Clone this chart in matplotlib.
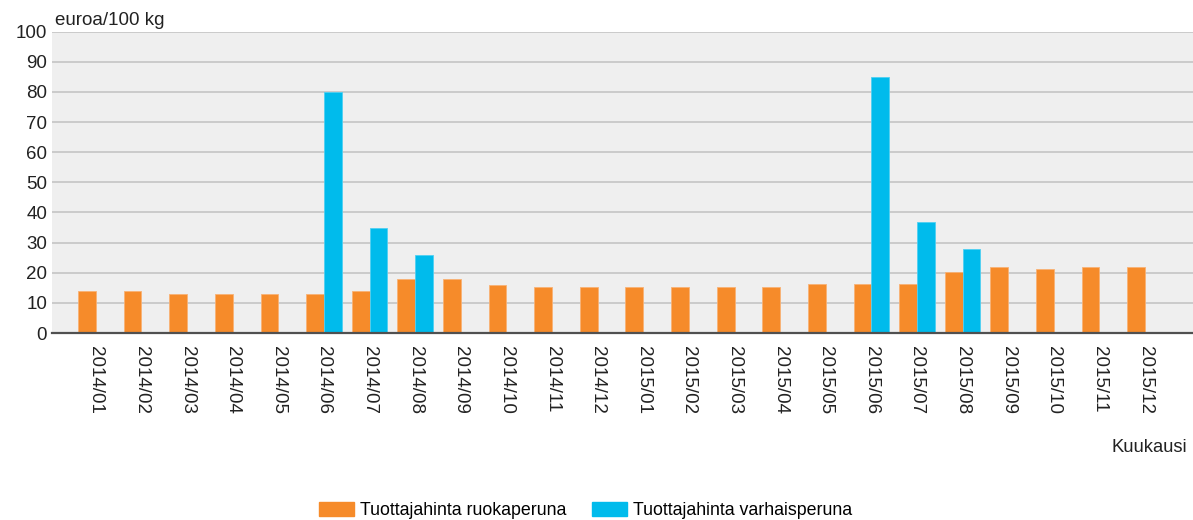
import matplotlib.pyplot as plt
import numpy as np
from matplotlib.patches import Patch

plt.rcParams['font.family'] = ['Liberation Sans', 'DejaVu Sans']

months = ['2014/01', '2014/02', '2014/03', '2014/04', '2014/05', '2014/06',
          '2014/07', '2014/08', '2014/09', '2014/10', '2014/11', '2014/12',
          '2015/01', '2015/02', '2015/03', '2015/04', '2015/05', '2015/06',
          '2015/07', '2015/08', '2015/09', '2015/10', '2015/11', '2015/12']
ruokaperuna = [14, 14, 13, 13, 13, 13, 14, 18, 18, 16, 15.3, 15.3,
               15.3, 15.3, 15.3, 15.3, 16.3, 16.3, 16.3, 20.3, 22, 21.2, 22, 22]
varhaisperuna = [np.nan, np.nan, np.nan, np.nan, np.nan, 80, 35, 26, np.nan, np.nan, np.nan, np.nan,
                 np.nan, np.nan, np.nan, np.nan, np.nan, 85, 37, 28, np.nan, np.nan, np.nan, np.nan]

orange = '#f68b2a'
blue = '#00bbec'
txt = '#222222'

fig = plt.figure(figsize=(11.93, 5.2), dpi=100)
ax = fig.add_axes([0.0436, 0.3596, 0.9564, 0.5794])
ax.set_facecolor('#efefef')

x = np.arange(len(months))
w = 0.39
ax.bar(x - w / 2, ruokaperuna, width=w, color=orange, edgecolor='#f8b275', linewidth=0.6, zorder=3)
ax.bar(x + w / 2, varhaisperuna, width=w, color=blue, edgecolor='#4fd0f2', linewidth=0.6, zorder=3)

ax.set_ylim(0, 100)
ax.set_xlim(-0.96, 24.05)
ax.set_yticks(range(0, 101, 10))
ax.yaxis.grid(True, color='#c8c8c8', linewidth=1.3, zorder=0)
ax.set_xticks(x)
ax.set_xticklabels(months, rotation=270, fontsize=13.5, color=txt)
ax.tick_params(axis='x', length=0, pad=9)
ax.tick_params(axis='y', length=0, pad=3.5, labelsize=13.5, labelcolor=txt)
for s in ['top', 'right', 'left']:
    ax.spines[s].set_visible(False)
ax.spines['bottom'].set_color('#505050')
ax.spines['bottom'].set_linewidth(1.6)
ax.spines['bottom'].set_zorder(4)

fig.text(0.046, 0.951, 'euroa/100 kg', fontsize=13.5, color=txt, ha='left', va='baseline')
fig.text(0.995, 0.131, 'Kuukausi', fontsize=13.2, color=txt, ha='right', va='baseline')

handles = [Patch(color=orange), Patch(color=blue)]
fig.legend(handles, ['Tuottajahinta ruokaperuna', 'Tuottajahinta varhaisperuna'],
           loc='center', bbox_to_anchor=(0.491, 0.018), ncol=2, frameon=False,
           fontsize=12.8, handlelength=1.97, handleheight=0.79, columnspacing=1.46,
           handletextpad=0.34, borderpad=0)

fig.savefig('out.png', dpi=100)
